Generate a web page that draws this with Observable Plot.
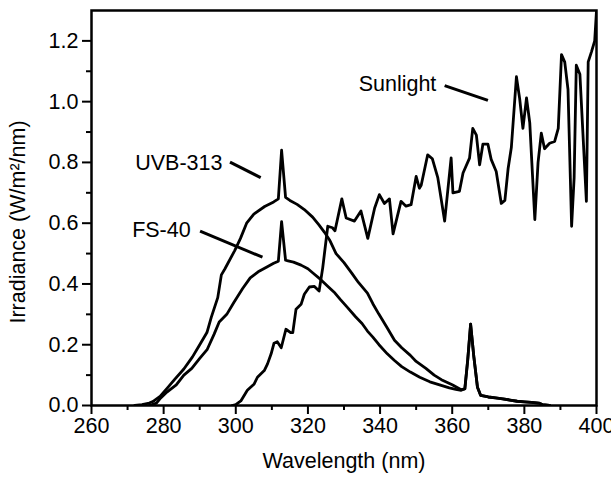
<!DOCTYPE html>
<html><head><meta charset="utf-8">
<script src="https://cdn.jsdelivr.net/npm/d3@7"></script>
<script src="https://cdn.jsdelivr.net/npm/@observablehq/plot@0.6"></script>
<style>body{margin:0;background:#fff}</style>
</head><body><div id="chart"></div>
<script>
// Series: UVB-313 lamp
const uvbWavelength = [272,274,276,277,279,281,283,285.6,288,290,292,293.2,295,296,297,299.7,301.3,303,305,308,310.5,311.8,312.7,313.8,315,317,319,321.3,323,324.6,326,327.8,330,332.2,334,336.5,338,339.7,342,344,346,348.4,350,352.7,355,357,360,362.5,363.5,364.3,365.1,366,367,367.9,370,372,374,376,378,380,382,384,385,387];
const uvbIrradiance = [0,0.003,0.008,0.013,0.03,0.057,0.085,0.12,0.16,0.2,0.24,0.29,0.355,0.43,0.45,0.51,0.55,0.6,0.63,0.655,0.67,0.68,0.84,0.685,0.675,0.662,0.645,0.62,0.595,0.57,0.545,0.5,0.47,0.435,0.405,0.37,0.335,0.3,0.255,0.215,0.19,0.165,0.145,0.122,0.1,0.085,0.068,0.052,0.055,0.15,0.268,0.16,0.06,0.033,0.028,0.025,0.022,0.018,0.014,0.012,0.01,0.008,0.003,0];
// Series: FS-40 lamp
const fsWavelength = [276,278,279.2,281,283.5,285.6,287.8,290,292.1,294,295.4,297.5,299.5,301.9,304,306.2,308.5,310.5,311.8,312.7,313.8,314.5,316,318.1,320,321.3,323.5,325.7,327.5,328.9,331,333.2,335,336.5,338,339.7,342,344,346,348.4,351,353.8,356.5,359.2,361,362.5,363.5,364.3,365.1,366,367,367.9,370,372,374,376,378,380,382,384,385,387];
const fsIrradiance = [0,0.008,0.025,0.045,0.068,0.1,0.122,0.155,0.185,0.235,0.275,0.3,0.34,0.385,0.42,0.44,0.455,0.468,0.475,0.605,0.478,0.476,0.472,0.462,0.45,0.437,0.415,0.39,0.37,0.35,0.322,0.292,0.27,0.245,0.225,0.2,0.17,0.148,0.128,0.11,0.093,0.078,0.068,0.058,0.053,0.05,0.055,0.15,0.268,0.16,0.06,0.033,0.028,0.025,0.022,0.018,0.014,0.012,0.01,0.008,0.003,0];
// Series: Sunlight
const sunWavelength = [299,300,301.4,303.2,305.1,306,307.9,308.8,309.8,310.6,311.5,312.6,313.9,315.2,315.8,316.7,318.1,319,320.4,321.8,323.1,324.1,325.5,326.8,327.5,329.4,330.6,332.9,334.7,336.6,338.5,339.8,341.2,342.6,343.6,345.8,347.2,348.6,350,350.9,351.4,353.2,354.5,356,357.9,359.7,360.2,362,363,364.8,365.7,366.7,367.6,368.5,369.9,370.8,372.2,373.6,374.6,375.5,376.4,377.8,378.7,379.6,380.6,381.5,382.9,383.8,384.7,385.6,387,388.4,389.4,390.3,391.2,392.1,393.1,393.8,394.4,395.4,397.2,397.7,398.6,399.5,400];
const sunIrradiance = [0,0.003,0.015,0.05,0.071,0.093,0.115,0.137,0.17,0.205,0.21,0.19,0.251,0.24,0.24,0.317,0.333,0.366,0.39,0.392,0.377,0.453,0.59,0.585,0.575,0.68,0.617,0.607,0.64,0.55,0.65,0.694,0.665,0.68,0.565,0.672,0.656,0.661,0.754,0.715,0.725,0.825,0.812,0.75,0.607,0.815,0.7,0.705,0.765,0.814,0.912,0.89,0.792,0.86,0.86,0.81,0.77,0.665,0.675,0.78,0.85,1.082,1.01,0.912,1.012,0.93,0.612,0.8,0.896,0.845,0.863,0.869,0.912,1.155,1.13,1.04,0.59,0.75,1.12,1.09,0.672,1.131,1.164,1.2,1.3];

// Axis ticks
const xTicks = [260,280,300,320,340,360,380,400];
const xMinorTicks = [270,290,310,330,350,370,390];
const yTicks = [0,0.2,0.4,0.6,0.8,1.0,1.2];
const yMinorTicks = [0.1,0.3,0.5,0.7,0.9,1.1];

// Labels and leader lines (data coordinates)
const labelNames = ["Sunlight","UVB-313","FS-40"];
const labelX = [355.6,296.3,287.5];
const labelY = [1.058,0.797,0.576];
const leaderX1 = [357.9,298.4,290.1];
const leaderY1 = [1.053,0.801,0.574];
const leaderX2 = [369.9,306.9,307.4];
const leaderY2 = [1.004,0.75,0.488];

const xTitle = "Wavelength (nm)";
const yTitle = "Irradiance (W/m²/nm)";

const rows = [];
function addSeries(name, xs, ys) { xs.forEach((x, i) => rows.push({series: name, wl: x, irr: ys[i]})); }
addSeries("UVB-313", uvbWavelength, uvbIrradiance);
addSeries("FS-40", fsWavelength, fsIrradiance);
addSeries("Sunlight", sunWavelength, sunIrradiance);

const labels = labelNames.map((n, i) => ({name: n, x: labelX[i], y: labelY[i], x1: leaderX1[i], y1: leaderY1[i], x2: leaderX2[i], y2: leaderY2[i]}));

const chart = Plot.plot({
  width: 611, height: 477,
  marginLeft: 91, marginRight: 15, marginTop: 10, marginBottom: 72,
  x: {domain: [260, 400]},
  y: {domain: [0, 1.3]},
  style: {fontFamily: "'Liberation Sans', Arial, sans-serif", fontSize: "21.5px", color: "black", background: "white"},
  marks: [
    Plot.axisX({ticks: xTicks, tickSize: 9, tickPadding: 3, tickFormat: d3.format("d"), label: null, strokeWidth: 2}),
    Plot.axisX({ticks: xMinorTicks, tickSize: 5, text: null, label: null, strokeWidth: 2}),
    Plot.axisY({ticks: yTicks, tickSize: 9, tickPadding: 4, tickFormat: d3.format(".1f"), label: null, strokeWidth: 2}),
    Plot.axisY({ticks: yMinorTicks, tickSize: 5, text: null, label: null, strokeWidth: 2}),
    Plot.frame({stroke: "black", strokeWidth: 2.5}),
    Plot.line(rows, {x: "wl", y: "irr", z: "series", stroke: "black", strokeWidth: 2.8, strokeLinejoin: "round", clip: true}),
    Plot.link(labels, {x1: "x1", y1: "y1", x2: "x2", y2: "y2", stroke: "black", strokeWidth: 3}),
    Plot.text(labels, {x: "x", y: "y", text: "name", textAnchor: "end", fill: "black"}),
    Plot.text([xTitle], {frameAnchor: "bottom", textAnchor: "middle", dy: 62, fill: "black"}),
    Plot.text([yTitle], {frameAnchor: "left", textAnchor: "middle", rotate: -90, dx: -73, dy: 14, fill: "black"})
  ]
});
document.getElementById("chart").appendChild(chart);
</script>
</body></html>
